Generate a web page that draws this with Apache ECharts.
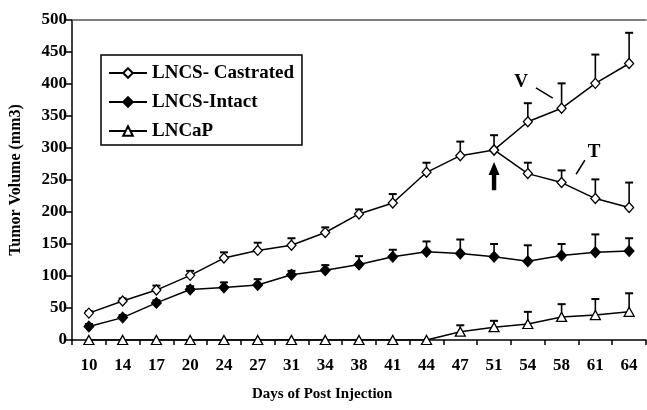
<!DOCTYPE html>
<html>
<head>
<meta charset="utf-8">
<script src="https://cdn.jsdelivr.net/npm/echarts@6/dist/echarts.min.js"></script>
<style>
html,body{margin:0;padding:0;background:#fff;}
#c{width:647px;height:410px;}
</style>
</head>
<body>
<div id="c"></div>
<script>
// ---- data ----
const days = ['10','14','17','20','24','27','31','34','38','41','44','47','51','54','58','61','64'];
// LNCS-Castrated, days 10..51 (before split)
const castratedBase = [42, 61, 78, 101, 128, 140, 148, 168, 197, 214, 262, 288, 297];
const castratedBaseErr = [3, 4, 7, 7, 9, 12, 11, 8, 7, 14, 15, 22, 23];
// branch V, days 54..64
const castratedV = [341, 362, 401, 432];
const castratedVErr = [29, 39, 45, 48];
// branch T, days 54..64
const castratedT = [260, 246, 221, 207];
const castratedTErr = [17, 19, 30, 39];
// LNCS-Intact
const intact = [21, 35, 58, 79, 82, 86, 102, 109, 118, 130, 138, 135, 130, 123, 132, 137, 139];
const intactErr = [4, 4, 4, 5, 8, 9, 6, 8, 13, 11, 16, 22, 20, 25, 18, 28, 20];
// LNCaP
const lncap = [0, 0, 0, 0, 0, 0, 0, 0, 0, 0, 0, 13, 20, 25, 36, 39, 44];
const lncapErr = [0, 0, 0, 0, 0, 0, 0, 0, 0, 0, 0, 10, 10, 19, 20, 25, 29];
const yTicks = {min: 0, max: 500, interval: 50};
// annotations (category index, value)
const arrowAt = {idx: 12, tip: 278, base: 234};
const labelV = {idx: 12.8, val: 403, text: 'V'};
const lineV = [[13.24, 394], [13.74, 378]];
const labelT = {idx: 14.96, val: 294, text: 'T'};
const lineT = [[14.43, 259], [14.69, 281]];

// ---- build ----
const splitIdx = castratedBase.length - 1;
const castratedMain = castratedBase.concat(castratedV);
const castratedMainErr = castratedBaseErr.concat(castratedVErr);
const castratedTData = [[days[splitIdx], castratedBase[splitIdx]]].concat(
  castratedT.map((v, i) => [days[splitIdx + 1 + i], v]));
const castratedTErrData = castratedT.map((v, i) => [splitIdx + 1 + i, v, castratedTErr[i]]);

function errData(vals, errs, offset) {
  return vals.map((v, i) => [i + (offset || 0), v, errs[i]]).filter(d => d[2] > 0);
}
function errSeries(data) {
  return {
    type: 'custom',
    name: 'err',
    z: 1,
    silent: true,
    data: data,
    renderItem: function (params, api) {
      const x = api.value(0), v = api.value(1), e = api.value(2);
      const p0 = api.coord([x, v]);
      const p1 = api.coord([x, v + e]);
      const hw = 4;
      return {
        type: 'group',
        children: [
          {type: 'line', shape: {x1: p0[0], y1: p0[1], x2: p1[0], y2: p1[1]}, style: {stroke: '#000', lineWidth: 1.6}},
          {type: 'line', shape: {x1: p1[0] - hw, y1: p1[1], x2: p1[0] + hw, y2: p1[1]}, style: {stroke: '#000', lineWidth: 2}}
        ]
      };
    }
  };
}

const font = '"Liberation Serif", "Times New Roman", serif';
const chart = echarts.init(document.getElementById('c'), null, {renderer: 'canvas'});
const lineStyle = {color: '#000', width: 1.5};

chart.setOption({
  animation: false,
  backgroundColor: '#fff',
  title: {
    text: 'Days of Post Injection',
    left: 252, top: 387,
    padding: 0,
    textStyle: {fontFamily: font, fontWeight: 'bold', fontSize: 15, color: '#000'}
  },
  grid: {left: 72, right: 1, top: 20, bottom: 70, containLabel: false},
  legend: {
    orient: 'vertical',
    left: 101, top: 55,
    padding: [8, 8, 4, 7],
    itemWidth: 38, itemHeight: 12, itemGap: 9,
    borderColor: '#000', borderWidth: 1.5,
    backgroundColor: '#fff',
    data: ['LNCS- Castrated', 'LNCS-Intact', 'LNCaP'],
    textStyle: {fontFamily: font, fontWeight: 'bold', fontSize: 19, color: '#000', lineHeight: 20}
  },
  xAxis: [{
    type: 'category',
    data: days,
    boundaryGap: true,
    axisLine: {lineStyle: {color: '#000', width: 1.5}},
    axisTick: {show: true, interval: 0, alignWithLabel: false, length: 5, lineStyle: {color: '#000', width: 1.5}},
    axisLabel: {interval: 0, margin: 17, fontFamily: font, fontWeight: 'bold', fontSize: 17, color: '#000'},
    splitLine: {show: false}
  }, {
    type: 'category',
    data: days,
    position: 'top',
    axisLine: {lineStyle: {color: '#555', width: 1.5}},
    axisTick: {show: false},
    axisLabel: {show: false}
  }],
  yAxis: {
    type: 'value',
    min: yTicks.min, max: yTicks.max, interval: yTicks.interval,
    name: 'Tumor Volume (mm3)',
    nameLocation: 'middle',
    nameGap: 48,
    nameTextStyle: {fontFamily: font, fontWeight: 'bold', fontSize: 16, color: '#000'},
    axisLine: {show: true, lineStyle: {color: '#000', width: 1.5}},
    axisTick: {show: true, length: 6, lineStyle: {color: '#000', width: 1.5}},
    axisLabel: {margin: 5, fontFamily: font, fontWeight: 'bold', fontSize: 17, color: '#000'},
    splitLine: {show: false}
  },
  series: [
    errSeries(errData(castratedMain, castratedMainErr)),
    errSeries(castratedTErrData),
    errSeries(errData(intact, intactErr)),
    errSeries(errData(lncap, lncapErr)),
    {
      name: 'LNCS- Castrated', type: 'line', z: 3, data: castratedMain,
      symbol: 'diamond', symbolSize: [9, 10], showAllSymbol: true,
      lineStyle: lineStyle,
      itemStyle: {color: '#fff', borderColor: '#000', borderWidth: 1.3}
    },
    {
      name: 'LNCS- Castrated', type: 'line', z: 3, data: castratedTData,
      symbol: 'diamond', symbolSize: [9, 10], showAllSymbol: true,
      lineStyle: lineStyle,
      itemStyle: {color: '#fff', borderColor: '#000', borderWidth: 1.3}
    },
    {
      name: 'LNCS-Intact', type: 'line', z: 3, data: intact,
      symbol: 'diamond', symbolSize: [10, 11], showAllSymbol: true,
      lineStyle: lineStyle,
      itemStyle: {color: '#000', borderColor: '#000', borderWidth: 1}
    },
    {
      name: 'LNCaP', type: 'line', z: 3, data: lncap,
      symbol: 'triangle', symbolSize: [10, 9], showAllSymbol: true,
      lineStyle: lineStyle,
      itemStyle: {color: '#fff', borderColor: '#000', borderWidth: 1.3}
    }
  ]
});

function px(idx, val) {
  const i0 = Math.floor(idx);
  const a = chart.convertToPixel({xAxisIndex: 0, yAxisIndex: 0}, [i0, val]);
  const b = chart.convertToPixel({xAxisIndex: 0, yAxisIndex: 0}, [i0 + 1, val]);
  return [a[0] + (idx - i0) * (b[0] - a[0]), a[1]];
}
const tip = px(arrowAt.idx, arrowAt.tip);
const base = px(arrowAt.idx, arrowAt.base);
const hx = tip[0], sw = 2.2, hw = 5.5, hl = 13;
const vPos = px(labelV.idx, labelV.val);
const tPos = px(labelT.idx, labelT.val);
const v1 = px(lineV[0][0], lineV[0][1]), v2 = px(lineV[1][0], lineV[1][1]);
const t1 = px(lineT[0][0], lineT[0][1]), t2 = px(lineT[1][0], lineT[1][1]);
const annFont = 'bold 19px ' + font;
chart.setOption({
  graphic: [
    {type: 'polygon', z: 10, shape: {points: [
      [hx, tip[1]], [hx + hw, tip[1] + hl], [hx + sw, tip[1] + hl], [hx + sw, base[1]],
      [hx - sw, base[1]], [hx - sw, tip[1] + hl], [hx - hw, tip[1] + hl]]},
      style: {fill: '#000'}},
    {type: 'text', z: 10, x: vPos[0], y: vPos[1], style: {text: labelV.text, font: annFont, fill: '#000', align: 'center', verticalAlign: 'middle'}},
    {type: 'text', z: 10, x: tPos[0], y: tPos[1], style: {text: labelT.text, font: annFont, fill: '#000', align: 'center', verticalAlign: 'middle'}},
    {type: 'line', z: 10, shape: {x1: v1[0], y1: v1[1], x2: v2[0], y2: v2[1]}, style: {stroke: '#000', lineWidth: 1.5}},
    {type: 'line', z: 10, shape: {x1: t1[0], y1: t1[1], x2: t2[0], y2: t2[1]}, style: {stroke: '#000', lineWidth: 1.5}}
  ]
});
</script>
</body>
</html>
